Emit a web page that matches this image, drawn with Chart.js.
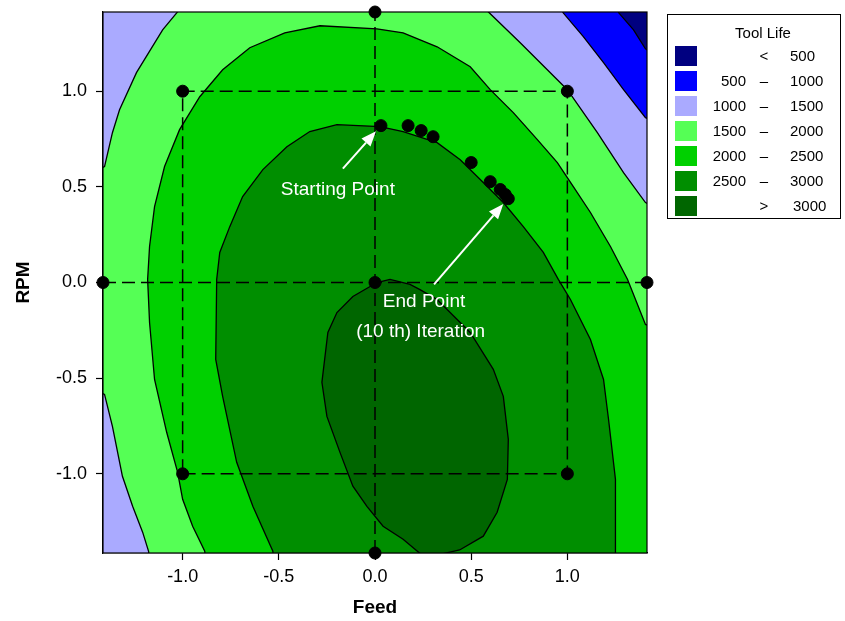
<!DOCTYPE html>
<html>
<head>
<meta charset="utf-8">
<script src="https://cdn.jsdelivr.net/npm/chart.js@4.4.1/dist/chart.umd.min.js"></script>
<style>
  html, body { margin: 0; padding: 0; background: #fff; }
  #wrap { position: relative; width: 845px; height: 621px; }
  #legend {
    position: absolute; left: 667px; top: 14px; width: 174px; height: 205px;
    border: 1.5px solid #000; box-sizing: border-box;
    font-family: "Liberation Sans", Arial, sans-serif; font-size: 15px; color: #000;
  }
  #legend .title { position: absolute; left: 0; width: 190px; top: 9px; text-align: center; }
  #legend .sw { position: absolute; left: 7px; width: 22px; height: 20px; }
  #legend .lo { position: absolute; left: 30px; width: 48px; text-align: right; }
  #legend .mid { position: absolute; left: 86px; width: 20px; text-align: center; }
  #legend .hi { position: absolute; left: 122px; }
</style>
</head>
<body>
<div id="wrap">
  <canvas id="chart"></canvas>
  <div id="legend"><div class="title">Tool Life</div></div>
</div>
<script>
// axes
const feedTicks = [-1, -0.5, 0, 0.5, 1];
const rpmTicks = [-1, -0.5, 0, 0.5, 1];
const axisMin = -1.414;
const axisMax = 1.414;

// tool life bands (legend)
const levelLow = [null, 500, 1000, 1500, 2000, 2500, 3000];
const levelHigh = [500, 1000, 1500, 2000, 2500, 3000, null];
const levelColors = ["#000080", "#0000ff", "#aaaaff", "#55ff55", "#00d000", "#008e00", "#006600"];

// contour regions (points past the frame get clipped)
const regionAll = [[-1.6, -1.6], [-1.6, 1.6], [1.6, 1.6], [1.6, -1.6]];
const region1500 = [
  [-1.6, -1.6], [-1.16, -1.6], [-1.177, -1.405], [-1.208, -1.305], [-1.26, -1.17], [-1.313, -1.013],
  [-1.365, -0.752], [-1.406, -0.585], [-1.6, -0.5], [-1.6, 0.52], [-1.406, 0.606], [-1.365, 0.783],
  [-1.328, 0.903], [-1.24, 1.097], [-1.104, 1.321], [-1.026, 1.415], [-1.0, 1.6], [0.55, 1.6],
  [0.589, 1.415], [0.755, 1.253], [1.0, 1.008], [1.156, 0.783], [1.292, 0.574], [1.406, 0.418],
  [1.6, 0.33], [1.6, -1.6]
];
const region2000 = [
  [-1.6, -1.6], [-0.87, -1.6], [-0.885, -1.405], [-0.948, -1.274], [-1.0, -1.133], [-1.026, -0.992],
  [-1.083, -0.783], [-1.146, -0.507], [-1.172, -0.209], [-1.182, 0.016], [-1.172, 0.188], [-1.146, 0.397],
  [-1.094, 0.606], [-1.016, 0.799], [-0.911, 0.971], [-0.792, 1.112], [-0.651, 1.227], [-0.469, 1.305],
  [-0.286, 1.342], [0.01, 1.326], [0.146, 1.305], [0.323, 1.232], [0.495, 1.128], [0.599, 1.008],
  [0.719, 0.888], [0.844, 0.747], [0.948, 0.627], [1.031, 0.501], [1.12, 0.366], [1.224, 0.188],
  [1.313, 0.016], [1.406, -0.219], [1.6, -0.3], [1.6, -1.6]
];
const region2500 = [
  [-1.6, -1.6], [-0.52, -1.6], [-0.531, -1.405], [-0.635, -1.17], [-0.719, -0.94], [-0.792, -0.595],
  [-0.828, -0.402], [-0.823, 0.016], [-0.807, 0.157], [-0.755, 0.292], [-0.688, 0.449], [-0.583, 0.59],
  [-0.458, 0.71], [-0.339, 0.789], [-0.198, 0.825], [0.026, 0.815], [0.146, 0.789], [0.323, 0.731],
  [0.443, 0.642], [0.547, 0.538], [0.667, 0.418], [0.771, 0.292], [0.875, 0.157], [0.953, 0.016],
  [1.016, -0.089], [1.12, -0.298], [1.188, -0.507], [1.214, -0.715], [1.25, -1.029], [1.25, -1.405],
  [1.25, -1.6], [1.6, -1.6]
];
const region3000 = [
  [-1.6, -1.6], [0.3, -1.6], [0.3, -1.43], [0.44, -1.398], [0.563, -1.326], [0.635, -1.201],
  [0.688, -1.029], [0.693, -0.82], [0.667, -0.595], [0.615, -0.454], [0.495, -0.261], [0.323, -0.089],
  [0.234, -0.037], [0.182, -0.01], [0.078, 0.016], [0.01, 0.0], [-0.115, -0.073], [-0.198, -0.157],
  [-0.245, -0.261], [-0.276, -0.522], [-0.25, -0.7], [-0.182, -0.888], [-0.115, -1.065], [-0.042, -1.17],
  [0.042, -1.274], [0.146, -1.342], [0.25, -1.43], [0.3, -1.43], [0.3, -1.6], [1.6, -1.6]
];
const regionBelow1000 = [
  [-1.6, 1.6], [0.96, 1.6], [0.977, 1.411], [1.083, 1.285], [1.188, 1.149], [1.292, 1.008],
  [1.406, 0.862], [1.6, 0.78], [1.6, 1.6]
];
const regionBelow500 = [
  [-1.6, 1.6], [1.25, 1.6], [1.266, 1.411], [1.344, 1.321], [1.406, 1.222], [1.6, 1.1], [1.6, 1.6]
];

// design and search path
const designFrame = [[-1, -1], [1, -1], [1, 1], [-1, 1], [-1, -1]];
const feedLine = [[-1.414, 0], [1.414, 0]];
const rpmLine = [[0, -1.414], [0, 1.414]];
const designPoints = [[-1, -1], [1, -1], [-1, 1], [1, 1], [0, -1.414], [0, 1.414], [-1.414, 0], [1.414, 0], [0, 0]];
const iterationPoints = [
  [0.031, 0.82], [0.172, 0.82], [0.24, 0.794], [0.302, 0.762], [0.5, 0.627],
  [0.599, 0.527], [0.651, 0.486], [0.677, 0.46], [0.693, 0.438]
];

// annotations
const arrowTails = [[-0.167, 0.595], [0.307, -0.01]];
const arrowTips = [[0.005, 0.79], [0.667, 0.41]];
const noteText = ["Starting Point", "End Point", "(10 th) Iteration"];
const notePos = [[-0.193, 0.483], [0.255, -0.099], [0.237, -0.256]];

const FONT = '"Liberation Sans", Arial, sans-serif';
const xy = (arr) => arr.map(([x, y]) => ({ x, y }));

function region(data, color, order, border) {
  return {
    data: xy(data),
    showLine: true,
    fill: "shape",
    backgroundColor: color,
    borderColor: "#000",
    borderWidth: border ? 1.3 : 0,
    pointRadius: 0,
    tension: 0,
    clip: 0,
    order,
  };
}

function dashed(data) {
  return {
    data: xy(data),
    showLine: true,
    fill: false,
    borderColor: "#000",
    borderWidth: 1.5,
    borderDash: [13, 6],
    pointRadius: 0,
    tension: 0,
    clip: 0,
    order: 2,
  };
}

function dots(data) {
  return {
    data: xy(data),
    showLine: false,
    backgroundColor: "#000",
    borderColor: "#000",
    pointRadius: 6,
    pointHoverRadius: 6,
    clip: false,
    order: 1,
  };
}

const overlay = {
  id: "overlay",
  afterDatasetsDraw(chart) {
    const { ctx, chartArea: a, scales } = chart;
    const px = (p) => [scales.x.getPixelForValue(p[0]), scales.y.getPixelForValue(p[1])];
    ctx.save();
    ctx.strokeStyle = "#000";
    ctx.lineWidth = 1.2;
    ctx.strokeRect(a.left, a.top, a.right - a.left, a.bottom - a.top);

    ctx.strokeStyle = "#fff";
    ctx.fillStyle = "#fff";
    ctx.lineWidth = 2;
    arrowTails.forEach((t, i) => {
      const [x0, y0] = px(t);
      const [x1, y1] = px(arrowTips[i]);
      const ang = Math.atan2(y1 - y0, x1 - x0);
      const hl = 15, hw = 6;
      const bx = x1 - hl * Math.cos(ang), by = y1 - hl * Math.sin(ang);
      ctx.beginPath();
      ctx.moveTo(x0, y0);
      ctx.lineTo(bx, by);
      ctx.stroke();
      ctx.beginPath();
      ctx.moveTo(x1, y1);
      ctx.lineTo(bx + hw * Math.sin(ang), by - hw * Math.cos(ang));
      ctx.lineTo(bx - hw * Math.sin(ang), by + hw * Math.cos(ang));
      ctx.closePath();
      ctx.fill();
    });

    ctx.font = "19px " + FONT;
    ctx.textAlign = "center";
    ctx.textBaseline = "middle";
    noteText.forEach((s, i) => {
      const [x, y] = px(notePos[i]);
      ctx.fillText(s, x, y);
    });
    ctx.restore();
  },
};

const scaleBase = (ticks, title) => ({
  type: "linear",
  min: axisMin,
  max: axisMax,
  afterBuildTicks: (s) => { s.ticks = ticks.map((v) => ({ value: v })); },
  ticks: {
    color: "#000",
    font: { family: FONT, size: 18 },
    callback: (v) => Number(v).toFixed(1),
  },
  grid: { drawOnChartArea: false, drawTicks: true, tickLength: 7, tickWidth: 1.2, color: "#000" },
  border: { display: true, color: "#000", width: 1.2 },
  title: { display: true, text: title, color: "#000", font: { family: FONT, size: 19, weight: "bold" } },
});

const xScale = scaleBase(feedTicks, "Feed");
xScale.ticks.padding = 6;
xScale.title.padding = { top: 4, bottom: 2 };
xScale.afterFit = (s) => { s.height = 68; s.paddingLeft = 0; s.paddingRight = 0; };

const yScale = scaleBase(rpmTicks, "RPM");
yScale.ticks.padding = 9;
yScale.title.padding = { top: 6, bottom: 4 };
yScale.afterFit = (s) => { s.width = 97; s.paddingTop = 0; s.paddingBottom = 0; };

new Chart(document.getElementById("chart"), {
  type: "scatter",
  data: {
    datasets: [
      region(regionAll, levelColors[2], 20, false),
      region(region1500, levelColors[3], 19, true),
      region(region2000, levelColors[4], 18, true),
      region(region2500, levelColors[5], 17, true),
      region(region3000, levelColors[6], 16, true),
      region(regionBelow1000, levelColors[1], 15, true),
      region(regionBelow500, levelColors[0], 14, true),
      dashed(designFrame),
      dashed(feedLine),
      dashed(rpmLine),
      dots(designPoints),
      dots(iterationPoints),
    ],
  },
  options: {
    responsive: true,
    maintainAspectRatio: false,
    animation: false,
    layout: { padding: { left: 6, right: 198, top: 12, bottom: 0 } },
    plugins: { legend: { display: false }, tooltip: { enabled: false } },
    events: [],
    scales: { x: xScale, y: yScale },
  },
  plugins: [overlay],
});

// legend box
const legend = document.getElementById("legend");
levelColors.forEach((c, i) => {
  const top = 31 + i * 25;
  const sw = document.createElement("div");
  sw.className = "sw";
  sw.style.top = top + "px";
  sw.style.background = c;
  legend.appendChild(sw);
  const lo = document.createElement("div");
  lo.className = "lo";
  lo.style.top = top + 1 + "px";
  lo.textContent = levelLow[i] === null || levelHigh[i] === null ? "" : levelLow[i];
  legend.appendChild(lo);
  const mid = document.createElement("div");
  mid.className = "mid";
  mid.style.top = top + 1 + "px";
  mid.textContent = levelLow[i] === null ? "<" : levelHigh[i] === null ? ">" : "\u2013";
  legend.appendChild(mid);
  const hi = document.createElement("div");
  hi.className = "hi";
  hi.style.top = top + 1 + "px";
  hi.style.left = levelHigh[i] === null ? "125px" : "";
  hi.textContent = levelHigh[i] === null ? levelLow[i] : levelHigh[i];
  legend.appendChild(hi);
});
</script>
</body>
</html>
